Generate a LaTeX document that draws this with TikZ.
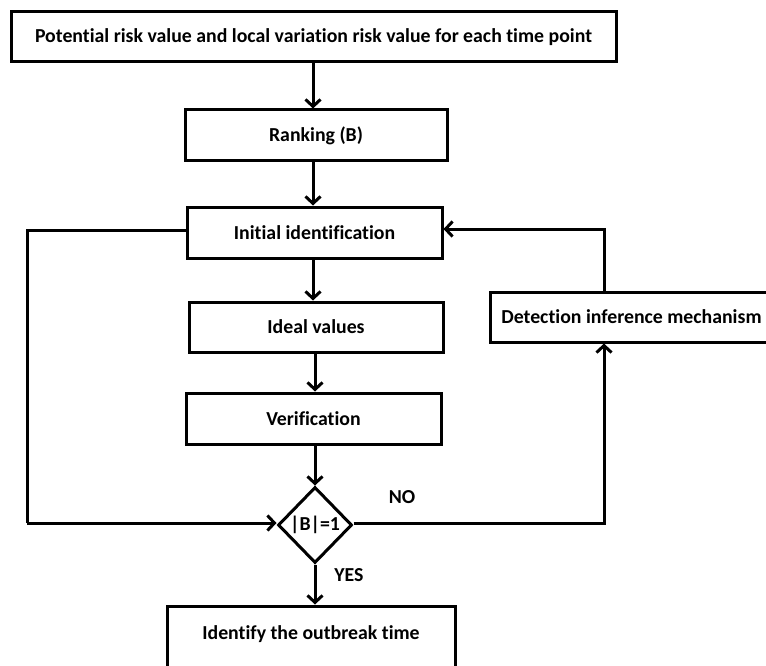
\documentclass[tikz,border=0pt]{standalone}
\usepackage{fontspec}
\setmainfont{Carlito}[Ligatures=NoCommon]
\usetikzlibrary{arrows.meta,shapes.geometric}
\begin{document}
\begin{tikzpicture}[x=1pt,y=-1pt,
  every node/.style={font=\fontsize{19.8}{23}\selectfont\bfseries},
  box/.style={draw, line width=3pt, rectangle, inner sep=0pt},
  dec/.style={draw, line width=3pt, diamond, aspect=1, inner sep=0pt, minimum width=74pt, minimum height=76pt},
  lbl/.style={inner sep=0pt},
  conn/.style={line width=3pt, line join=miter},
  arr/.style={conn, -{Straight Barb[length=7pt,width=15pt]}}
]
\useasboundingbox (0,0) rectangle (766,666);
\node[box, minimum width=605pt, minimum height=50pt] (top) at (313.5,37) {Potential risk value and local variation risk value for each time point};
\node[box, minimum width=262pt, minimum height=51pt] (rank) at (316,135.5) {Ranking (B)};
\node[box, minimum width=255pt, minimum height=51pt] (init) at (314.5,232.5) {Initial identification};
\node[box, minimum width=254pt, minimum height=50pt] (ideal) at (316,327) {Ideal values};
\node[box, minimum width=255pt, minimum height=51pt] (verif) at (313.5,418.5) {Verification};
\node[dec] (dec) at (315,525) {|B|=1};
\node[box, minimum width=288pt, text height=33pt, text depth=34pt, anchor=base] (out) at (311,639) {Identify the outbreak time};
\node[box, minimum height=50pt, minimum width=282pt, anchor=west] (det) at (489,317) {Detection inference mechanism};
\node[lbl] (no) at (402,497) {NO};
\node[lbl] (yes) at (349,575) {YES};
\coordinate (lc1) at (27,230);
\coordinate (lc2) at (27,523);
\coordinate (rc1) at (604,229);
\coordinate (rc2) at (604,523);
\draw[arr] (313,62) coordinate (t1) -- (t1 |- rank.north);
\draw[arr] (313,161) coordinate (t2) -- (t2 |- init.north);
\draw[arr] (313,258) coordinate (t3) -- (t3 |- ideal.north);
\draw[arr] (315,352) coordinate (t4) -- (t4 |- verif.north);
\draw[arr] (verif.south -| dec.north) -- (dec.north);
\draw[arr] (dec.south) -- (dec.south |- out.north);
\draw[conn] (init.west |- lc1) -- (lc1) -- (lc2);
\draw[arr] (lc2) -- (lc2 -| dec.west);
\draw[arr] (rc1 |- det.north) -- (rc1) -- (rc1 -| init.east);
\draw[arr] (dec.east |- rc2) -- (rc2) -- (rc2 |- det.south);
\end{tikzpicture}
\end{document}
